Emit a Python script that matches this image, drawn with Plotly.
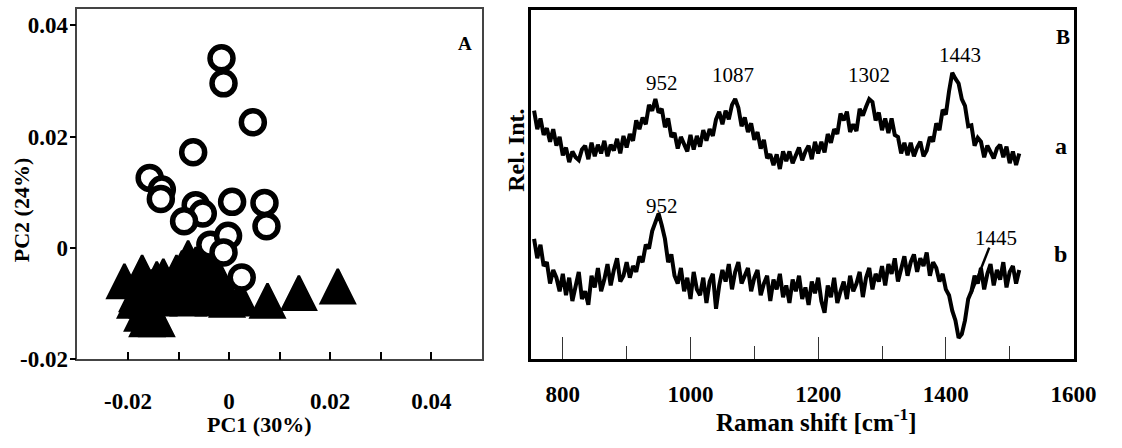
import plotly.graph_objects as go

# ---------------- Panel A: PCA scores ----------------
# open circles (group 1)
pc1_circle = [-0.0015, -0.0011, 0.0047, -0.0071, -0.0157, -0.0133, -0.0135, -0.0066,
              -0.0052, -0.0089, 0.0006, 0.0070, 0.0074, -0.0037, -0.0002, -0.0011, 0.0025]
pc2_circle = [0.0341, 0.0296, 0.0226, 0.0172, 0.0126, 0.0105, 0.0088, 0.0077,
              0.0062, 0.0048, 0.0083, 0.0081, 0.0039, 0.0006, 0.0022, -0.0008, -0.0053]

# filled triangles (group 2)
pc1_triangle = [-0.0207, -0.0172, -0.0143, -0.0130, -0.0104, -0.0093, -0.0081, -0.0066,
                -0.0052, -0.0039, -0.0027, -0.0073, -0.0114, -0.0153, -0.0182, -0.0162,
                -0.0133, -0.0095, -0.0066, -0.0037, -0.0011, -0.0017, -0.0162, -0.0139,
                -0.0108, -0.0081, -0.0056, -0.0031, -0.0004, 0.0022, -0.0186, -0.0162,
                -0.0143, -0.0172, 0.0076, 0.0138, 0.0215]
pc2_triangle = [-0.0029, -0.0013, -0.0025, -0.0020, -0.0013, -0.0005, 0.0013, 0.0001,
                0.0004, -0.0012, -0.0022, -0.0017, -0.0034, -0.0039, -0.0052, -0.0046,
                -0.0043, -0.0039, -0.0036, -0.0039, -0.0050, -0.0029, -0.0064, -0.0060,
                -0.0057, -0.0060, -0.0057, -0.0060, -0.0062, -0.0060, -0.0064, -0.0097,
                -0.0097, -0.0087, -0.0064, -0.0050, -0.0038]

pc1_ticks = [-0.02, 0, 0.02, 0.04]
pc1_ticktext = ["-0.02", "0", "0.02", "0.04"]
pc2_ticks = [-0.02, 0, 0.02, 0.04]
pc2_ticktext = ["-0.02", "0", "0.02", "0.04"]

# ---------------- Panel B: Raman spectra ----------------
raman_shift = list(range(755, 1516, 5))

rel_int_a = [
    256, 237, 248, 231, 238, 224, 237, 220, 229, 210,   # 755-800
    218, 203, 214, 208, 205, 216, 220, 206, 223, 209,   # 805-850
    221, 212, 225, 209, 221, 215, 227, 212, 230, 218,   # 855-900
    232, 225, 246, 237, 249, 242, 262, 256, 268, 254,   # 905-950
    258, 239, 248, 229, 233, 217, 229, 222, 214, 231,   # 955-1000
    216, 230, 219, 236, 225, 237, 230, 247, 255, 242,   # 1005-1050
    256, 247, 262, 268, 259, 240, 249, 234, 243, 226,   # 1055-1100
    234, 217, 226, 207, 211, 200, 211, 196, 214, 204,   # 1105-1150
    214, 202, 210, 218, 205, 214, 220, 206, 224, 212,   # 1155-1200
    224, 213, 232, 223, 237, 232, 253, 246, 255, 234,   # 1205-1250
    242, 235, 258, 251, 260, 268, 265, 246, 254, 236,   # 1255-1300
    248, 233, 248, 231, 229, 212, 223, 210, 223, 209,   # 1305-1350
    218, 224, 209, 215, 229, 224, 243, 236, 257, 252,   # 1355-1400
    276, 295, 289, 284, 268, 261, 240, 241, 220, 228,   # 1405-1450
    224, 208, 220, 214, 207, 217, 221, 208, 219, 202,   # 1455-1500
    214, 200, 212,                                      # 1505-1515
]

rel_int_b = [
    124, 104, 118, 96, 100, 78, 92, 84, 70, 88,         # 755-800
    66, 84, 60, 76, 90, 62, 70, 56, 86, 74,             # 805-850
    94, 70, 82, 98, 76, 92, 104, 80, 86, 100,           # 855-900
    84, 96, 90, 106, 100, 118, 114, 132, 140, 150,      # 905-950
    138, 124, 100, 108, 86, 78, 94, 70, 84, 62,         # 955-1000
    90, 72, 66, 84, 58, 80, 88, 52, 76, 92,             # 1005-1050
    80, 98, 72, 90, 100, 78, 86, 94, 70, 84,            # 1055-1100
    92, 66, 78, 86, 60, 82, 72, 88, 64, 76,             # 1105-1150
    58, 82, 70, 86, 62, 74, 56, 80, 68, 84,             # 1155-1200
    60, 48, 76, 64, 84, 58, 70, 80, 62, 86,             # 1205-1250
    70, 78, 90, 64, 84, 94, 72, 88, 80, 96,             # 1255-1300
    76, 98, 88, 104, 80, 94, 106, 86, 100, 108,         # 1305-1350
    90, 104, 96, 110, 86, 100, 94, 80, 88, 72,          # 1355-1400
    66, 50, 40, 22, 26, 40, 62, 70, 86, 78,             # 1405-1450
    94, 72, 88, 98, 76, 92, 82, 100, 74, 90,            # 1455-1500
    96, 78, 92,                                         # 1505-1515
]

shift_ticks_major = [800, 1000, 1200, 1400, 1600]

# peak labels: (text, x, y)
peak_labels = [
    ("952", 956, 285), ("1087", 1066, 293), ("1302", 1279, 293), ("1443", 1422, 313),
    ("952", 956, 158), ("1445", 1479, 125),
]

SERIF = "Liberation Serif"

fig = go.Figure()

fig.add_trace(go.Scatter(
    x=pc1_triangle, y=pc2_triangle, mode="markers",
    marker=dict(symbol="arrow-up", size=34, color="black",
                line=dict(color="black", width=2.5)),
    xaxis="x", yaxis="y", showlegend=False, hoverinfo="skip"))

fig.add_trace(go.Scatter(
    x=pc1_circle, y=pc2_circle, mode="markers",
    marker=dict(symbol="circle", size=23, color="white",
                line=dict(color="black", width=5.5)),
    xaxis="x", yaxis="y", showlegend=False, hoverinfo="skip"))

fig.add_trace(go.Scatter(
    x=raman_shift, y=rel_int_a, mode="lines",
    line=dict(color="black", width=4),
    xaxis="x2", yaxis="y2", showlegend=False, hoverinfo="skip"))

fig.add_trace(go.Scatter(
    x=raman_shift, y=rel_int_b, mode="lines",
    line=dict(color="black", width=4),
    xaxis="x2", yaxis="y2", showlegend=False, hoverinfo="skip"))

W, H = 1122, 448


def fx(px):
    return px / W


def fy(py):
    return 1 - py / H


tick_font = dict(family=SERIF, size=23, color="black", weight="bold")

fig.update_layout(
    width=W, height=H,
    margin=dict(l=0, r=0, t=0, b=0, pad=0),
    paper_bgcolor="white", plot_bgcolor="white",
    xaxis=dict(
        domain=[fx(79), fx(492)], range=[-0.03, 0.05], anchor="y",
        tickmode="array", tickvals=pc1_ticks, ticktext=pc1_ticktext,
        ticks="inside", ticklen=8, tickwidth=2, tickcolor="black",
        minor=dict(dtick=0.01, tick0=0, ticks="inside", ticklen=8,
                   tickwidth=2, tickcolor="black"),
        showline=True, linecolor="#444", linewidth=1.5, mirror=True,
        showgrid=False, zeroline=False, tickfont=tick_font, ticklabelstandoff=20,
    ),
    yaxis=dict(
        domain=[fy(370), fy(9)], range=[-0.02, 0.043], anchor="x",
        tickmode="array", tickvals=pc2_ticks, ticktext=pc2_ticktext,
        ticks="outside", ticklen=6, tickwidth=2, tickcolor="black",
        showline=True, linecolor="#444", linewidth=1.5, mirror=True,
        showgrid=False, zeroline=False, tickfont=tick_font, ticklabelstandoff=-3,
    ),
    xaxis2=dict(
        domain=[fx(542), fx(1096)], range=[750, 1600], anchor="y2",
        tickmode="array", tickvals=shift_ticks_major,
        ticks="inside", ticklen=22, tickwidth=1, tickcolor="#333",
        minor=dict(dtick=100, tick0=700, ticks="inside", ticklen=13,
                   tickwidth=1, tickcolor="#333"),
        showline=True, linecolor="black", linewidth=3, mirror=True,
        showgrid=False, zeroline=False, tickfont=tick_font, ticklabelstandoff=12,
    ),
    yaxis2=dict(
        domain=[fy(370), fy(10)], range=[0, 360], anchor="x2",
        showticklabels=False, ticks="",
        showline=True, linecolor="black", linewidth=3, mirror=True,
        showgrid=False, zeroline=False,
    ),
)


def label(text, x, y, size, ref=("paper", "paper"), angle=0):
    return dict(text=text, x=x, y=y, xref=ref[0], yref=ref[1], textangle=angle,
                xanchor="center", yanchor="middle", showarrow=False,
                font=dict(family=SERIF, size=size, color="black"))


annotations = [
    # axis titles
    label("<b>PC1 (30%)</b>", fx(264), fy(437), 22),
    label("<b>PC2 (24%)</b>", fx(22), fy(217), 22, angle=-90),
    label("<b>Raman shift [cm<sup>-1</sup>]</b>", fx(834), fy(433), 25),
    label("<b>Rel. Int.</b>", fx(526), fy(155), 24, angle=-90),
    # panel letters
    label("<b>A</b>", 0.0467, 0.0367, 19, ref=("x", "y")),
    label("<b>B</b>", 1583, 332, 21, ref=("x2", "y2")),
    label("<b>a</b>", 1580, 220, 24, ref=("x2", "y2")),
    label("<b>b</b>", 1580, 108, 24, ref=("x2", "y2")),
]
for txt, x, y in peak_labels:
    annotations.append(label(txt, x, y, 21, ref=("x2", "y2")))
fig.update_layout(annotations=annotations)

# pointer from the 1445 label to the band
fig.add_shape(type="line", x0=1468, y0=115, x1=1440, y1=68, xref="x2", yref="y2",
              line=dict(color="black", width=2.5))

fig.write_html("out.html")
